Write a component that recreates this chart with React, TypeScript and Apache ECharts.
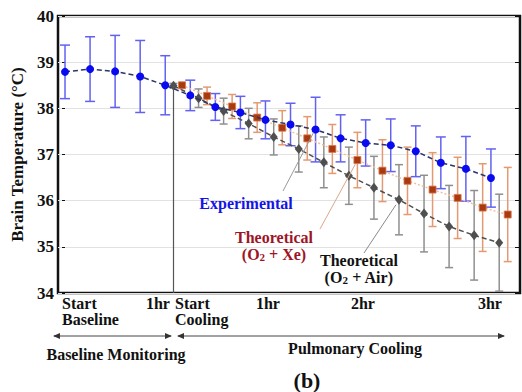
import React, { useEffect, useRef } from "react";
import * as echarts from "echarts";

// time slots (one slot = one measurement step)
const expSlots = [0, 1, 2, 3, 4, 5, 6, 7, 8, 9, 10, 11, 12, 13, 14, 15, 16, 17];
const expTemp = [38.79, 38.85, 38.8, 38.69, 38.5, 38.28, 38.03, 37.91, 37.75, 37.65, 37.54, 37.35, 37.25, 37.2, 37.07, 36.82, 36.69, 36.49];
const expErr = [0.58, 0.7, 0.78, 0.78, 0.64, 0.33, 0.29, 0.35, 0.41, 0.46, 0.7, 0.51, 0.5, 0.57, 0.55, 0.56, 0.7, 0.63];

const xeSlots = [4.67, 5.67, 6.67, 7.67, 8.67, 9.67, 10.67, 11.67, 12.67, 13.67, 14.67, 15.67, 16.67, 17.67];
const xeTemp = [38.5, 38.27, 38.04, 37.8, 37.58, 37.35, 37.12, 36.88, 36.65, 36.43, 36.24, 36.06, 35.85, 35.7];
const xeErr = [0.05, 0.19, 0.26, 0.32, 0.37, 0.47, 0.53, 0.6, 0.67, 0.73, 0.8, 0.88, 0.95, 1.02];

const airSlots = [4.33, 5.33, 6.33, 7.33, 8.33, 9.33, 10.33, 11.33, 12.33, 13.33, 14.33, 15.33, 16.33, 17.33];
const airTemp = [38.49, 38.22, 37.94, 37.67, 37.38, 37.12, 36.83, 36.54, 36.28, 36.02, 35.72, 35.44, 35.25, 35.09];
const airErr = [0.05, 0.2, 0.28, 0.33, 0.39, 0.5, 0.55, 0.62, 0.68, 0.76, 0.83, 0.89, 0.97, 1.05];

const xLabelSlots = [1.04, 3.71, 5.55, 8.1, 11.89, 16.96];
const xLabelTexts = ["Start\nBaseline", "1hr", "Start\nCooling", "1hr", "2hr", "3hr"];

const yTicks = [34, 35, 36, 37, 38, 39, 40];
const coolingStartSlot = 4.33;

const FONT = '"Liberation Serif", "Times New Roman", serif';

function errorSeries(name: string, slots: number[], temps: number[], errs: number[], color: string, cap: number) {
  return {
    name: name + " error",
    type: "custom",
    z: 1,
    silent: true,
    data: slots.map((s, i) => [s, temps[i] - errs[i], temps[i] + errs[i]]),
    renderItem: (params: any, api: any) => {
      const x = api.value(0);
      const top = api.coord([x, api.value(2)]);
      const bot = api.coord([x, api.value(1)]);
      const style = { stroke: color, lineWidth: 1.5 };
      return {
        type: "group",
        children: [
          { type: "line", shape: { x1: top[0], y1: top[1], x2: bot[0], y2: bot[1] }, style },
          { type: "line", shape: { x1: top[0] - cap, y1: top[1], x2: top[0] + cap, y2: top[1] }, style },
          { type: "line", shape: { x1: bot[0] - cap, y1: bot[1], x2: bot[0] + cap, y2: bot[1] }, style },
        ],
      };
    },
  };
}

function arrowHead(x: number, y: number, dir: number) {
  return {
    type: "polygon",
    shape: { points: [[x, y], [x - dir * 7, y - 3], [x - dir * 7, y + 3]] },
    style: { fill: "#333" },
  };
}

const bold = (size: number, color = "#111") => ({
  fontFamily: FONT,
  fontWeight: "bold",
  fontSize: size,
  fill: color,
});

export default function App() {
  const ref = useRef<HTMLDivElement>(null);
  useEffect(() => {
    document.body.style.margin = "0";
    const chart = echarts.init(ref.current!, null, { renderer: "svg" });
    const option: any = {
      animation: false,
      backgroundColor: "#fff",
      grid: {
        left: 58, top: 16, width: 462, height: 277,
        show: true, borderColor: "#111", borderWidth: 2.5, backgroundColor: "transparent",
      },
      xAxis: {
        type: "value",
        min: -0.28,
        max: 18.16,
        axisLine: { show: false },
        axisTick: { show: false },
        splitLine: { show: false },
        axisLabel: {
          customValues: xLabelSlots,
          margin: 2,
          color: "#111",
          fontFamily: FONT,
          fontWeight: "bold",
          fontSize: 16,
          lineHeight: 16,
          formatter: (v: number) => {
            const i = xLabelSlots.findIndex((s) => Math.abs(s - v) < 1e-6);
            const t = i >= 0 ? xLabelTexts[i] : "";
            if (t.indexOf("\n") >= 0) return t.split("\n").map((s) => `{l|${s}}`).join("\n");
            return t;
          },
          rich: {
            l: { width: 58, align: "left", color: "#111", fontFamily: FONT, fontWeight: "bold", fontSize: 16, lineHeight: 16 },
          },
        },
      },
      yAxis: [
        {
          type: "value",
          min: yTicks[0],
          max: yTicks[yTicks.length - 1],
          interval: 1,
          axisLine: { show: false },
          axisTick: { show: true, length: 3, lineStyle: { color: "#111" } },
          axisLabel: { margin: 4, color: "#111", fontFamily: FONT, fontWeight: "bold", fontSize: 17 },
          splitLine: { lineStyle: { color: "#e2e2e2", width: 1 } },
          name: "Brain Temperature (°C)",
          nameLocation: "middle",
          nameGap: 21,
          nameTextStyle: { color: "#111", fontFamily: FONT, fontWeight: "bold", fontSize: 17 },
        },
        {
          type: "value",
          position: "right",
          min: yTicks[0],
          max: yTicks[yTicks.length - 1],
          interval: 1,
          axisLine: { show: false },
          axisTick: { show: true, inside: true, length: 5, lineStyle: { color: "#111" } },
          axisLabel: { show: false },
          splitLine: { show: false },
        },
      ],
      series: [
        errorSeries("air", airSlots, airTemp, airErr, "#8f8f8f", 4),
        errorSeries("xe", xeSlots, xeTemp, xeErr, "#e39a72", 4),
        errorSeries("exp", expSlots, expTemp, expErr, "#6262f2", 5),
        {
          name: "Theoretical (O2 + Air)",
          type: "line",
          z: 3,
          data: airSlots.map((s, i) => [s, airTemp[i]]),
          symbol: "diamond",
          symbolSize: [8, 10],
          itemStyle: { color: "#4f4f4f" },
          lineStyle: { color: "#505050", width: 1.5, type: [5, 3] },
          markLine: {
            silent: true,
            symbol: "none",
            label: { show: false },
            lineStyle: { color: "#555", width: 1.2, type: "solid" },
            data: [[{ coord: [coolingStartSlot, yTicks[0]] }, { coord: [coolingStartSlot, airTemp[0]] }]],
          },
        },
        {
          name: "Theoretical (O2 + Xe)",
          type: "line",
          z: 3,
          data: xeSlots.map((s, i) => [s, xeTemp[i]]),
          symbol: "rect",
          symbolSize: 7,
          itemStyle: { color: "#a93a10", borderColor: "#d87a50", borderWidth: 0.8 },
          lineStyle: { color: "#f0c0a0", width: 1.5, type: [2, 2] },
        },
        {
          name: "Experimental",
          type: "line",
          z: 4,
          data: expSlots.map((s, i) => [s, expTemp[i]]),
          symbol: "circle",
          symbolSize: 8,
          itemStyle: { color: "#0a0af0" },
          lineStyle: { color: "#2c3566", width: 1.5, type: [5, 3] },
        },
      ],
    };
    chart.setOption(option);

    const px = (p: number[]) => chart.convertToPixel({ gridIndex: 0 }, p) as number[];
    const expTarget = px([expSlots[10], expTemp[10]]);
    const xeTarget = px([xeSlots[7], xeTemp[7]]);
    const airTarget = px([airSlots[9], airTemp[9]]);

    const rich = (color: string) => ({
      b: { ...bold(16, color), lineHeight: 16, verticalAlign: "bottom" },
      s: { ...bold(11, color), lineHeight: 16, verticalAlign: "bottom" },
    });
    chart.setOption({
      graphic: [
        { type: "line", shape: { x1: 283, y1: 191, x2: expTarget[0] - 2, y2: expTarget[1] + 3 }, style: { stroke: "#9a9a9a", lineWidth: 1 }, z: 10 },
        { type: "line", shape: { x1: 320, y1: 229, x2: xeTarget[0] - 2, y2: xeTarget[1] + 4 }, style: { stroke: "#d9a88c", lineWidth: 1 }, z: 10 },
        { type: "line", shape: { x1: 364, y1: 253, x2: airTarget[0] - 3, y2: airTarget[1] + 5 }, style: { stroke: "#8a8a8a", lineWidth: 1 }, z: 10 },
        { type: "text", x: 246, y: 203, z: 10, style: { text: "Experimental", align: "center", verticalAlign: "middle", ...bold(16, "#1414e6") } },
        { type: "text", x: 274, y: 237, z: 10, style: { text: "Theoretical", align: "center", verticalAlign: "middle", ...bold(16, "#9e1426") } },
        {
          type: "text", x: 274, y: 254, z: 10,
          style: { text: "{b|(O}{s|2}{b| + Xe)}", align: "center", verticalAlign: "middle", ...bold(16, "#9e1426"), rich: rich("#9e1426") },
        },
        { type: "text", x: 359, y: 260, z: 10, style: { text: "Theoretical", align: "center", verticalAlign: "middle", ...bold(16, "#111") } },
        {
          type: "text", x: 359, y: 277, z: 10,
          style: { text: "{b|(O}{s|2}{b| + Air)}", align: "center", verticalAlign: "middle", ...bold(16, "#111"), rich: rich("#111") },
        },
        // bottom arrows
        { type: "line", shape: { x1: 54, y1: 336, x2: 171, y2: 336 }, style: { stroke: "#444", lineWidth: 1 } },
        arrowHead(53, 336, -1),
        arrowHead(172, 336, 1),
        { type: "line", shape: { x1: 178, y1: 336, x2: 504, y2: 336 }, style: { stroke: "#444", lineWidth: 1 } },
        arrowHead(177, 336, -1),
        arrowHead(505, 336, 1),
        { type: "text", x: 116, y: 354, style: { text: "Baseline Monitoring", align: "center", verticalAlign: "middle", ...bold(16) } },
        { type: "text", x: 355, y: 348, style: { text: "Pulmonary Cooling", align: "center", verticalAlign: "middle", ...bold(16) } },
        { type: "text", x: 307, y: 380, style: { text: "(b)", align: "center", verticalAlign: "middle", ...bold(22) } },
      ],
    });
    return () => chart.dispose();
  }, []);
  return <div ref={ref} style={{ width: 522, height: 392 }} />;
}
